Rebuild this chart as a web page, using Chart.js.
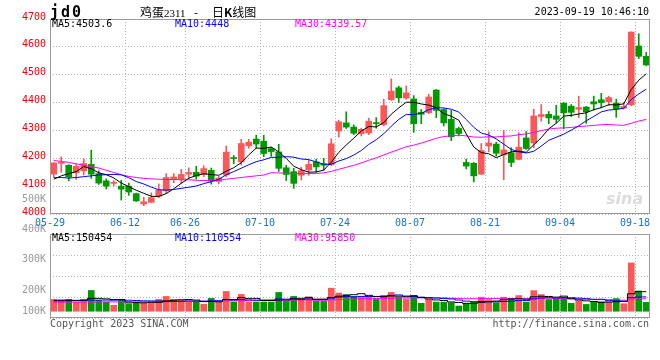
<!DOCTYPE html>
<html>
<head>
<meta charset="utf-8">
<script src="https://cdn.jsdelivr.net/npm/chart.js@4/dist/chart.umd.min.js"></script>
<style>
  body { margin: 0; background: #fff; }
  #wrap { position: relative; width: 660px; height: 360px; overflow: hidden; background: #fff;
          font-family: "DejaVu Sans Mono", monospace; font-size: 10px; }
  #wrap canvas { position: absolute; left: 0; }
  .t { position: absolute; line-height: 12px; white-space: pre; }
  .cn { font: 12px 'Noto Sans CJK SC'; line-height: 16px; top: 4px; }
</style>
</head>
<body>
<div id="wrap">
  <canvas id="vol" width="660" height="136" style="top:190px"></canvas>
  <canvas id="main" width="660" height="232" style="top:0"></canvas>

  <div class="t" style="left:50px;top:5px;font:bold 15px 'DejaVu Sans Mono';letter-spacing:2px;line-height:14px">jd0</div>
  <div class="t cn" style="left:140px">鸡蛋<span style="font:11px 'Liberation Serif'">2311</span></div>
  <div class="t cn" style="left:194px">-</div>
  <div class="t cn" style="left:212px">日<b>K</b>线图</div>
  <div class="t" style="right:11px;top:6px">2023-09-19 10:46:10</div>

  <div class="t" id="ma5" style="left:52px;top:18px;color:#000"></div>
  <div class="t" id="ma10" style="left:175px;top:18px;color:#0000ff"></div>
  <div class="t" id="ma30" style="left:295px;top:18px;color:#ff00ff"></div>

  <div class="t" id="vma5" style="left:52px;top:232px;color:#000"></div>
  <div class="t" id="vma10" style="left:175px;top:232px;color:#0000ff"></div>
  <div class="t" id="vma30" style="left:295px;top:232px;color:#ff00ff"></div>

  <div class="t" style="left:606px;top:189px;font:italic bold 16px 'DejaVu Sans';color:#dcdcdc">sina</div>

  <div class="t" style="left:50px;top:318px;color:#555">Copyright 2023 SINA.COM</div>
  <div class="t" style="right:11px;top:318px;color:#555">http://finance.sina.com.cn</div>
</div>

<script>
// 交易日
const dates = [
  '05-29','05-30','05-31','06-01','06-02','06-05','06-06','06-07','06-08','06-09',
  '06-12','06-13','06-14','06-15','06-16','06-19','06-20','06-21','06-26','06-27',
  '06-28','06-29','06-30','07-03','07-04','07-05','07-06','07-07','07-10','07-11',
  '07-12','07-13','07-14','07-17','07-18','07-19','07-20','07-21','07-24','07-25',
  '07-26','07-27','07-28','07-31','08-01','08-02','08-03','08-04','08-07','08-08',
  '08-09','08-10','08-11','08-14','08-15','08-16','08-17','08-18','08-21','08-22',
  '08-23','08-24','08-25','08-28','08-29','08-30','08-31','09-01','09-04','09-05',
  '09-06','09-07','09-08','09-11','09-12','09-13','09-14','09-15','09-18','09-19'
];
const dateTicks = ['05-29','06-12','06-26','07-10','07-24','08-07','08-21','09-04','09-18'];

const opens = [
  4143,4182,4175,4148,4155,4178,4145,4119,4110,4100,
  4100,4073,4036,4042,4064,4083,4123,4125,4143,4150,
  4142,4157,4117,4140,4201,4187,4245,4269,4261,4235,
  4223,4166,4152,4139,4158,4187,4180,4177,4298,4327,
  4312,4288,4291,4328,4321,4410,4453,4416,4413,4365,
  4364,4445,4375,4340,4307,4185,4182,4143,4244,4251,
  4212,4220,4196,4273,4255,4350,4358,4352,4398,4387,
  4376,4384,4403,4410,4403,4398,4380,4392,4603,4566
];
const highs = [
  4185,4205,4177,4180,4198,4229,4155,4126,4120,4121,
  4111,4075,4060,4076,4108,4145,4145,4160,4166,4171,
  4173,4165,4135,4244,4210,4268,4268,4283,4283,4239,
  4250,4175,4164,4168,4193,4197,4200,4270,4337,4367,
  4320,4308,4344,4346,4412,4485,4459,4460,4425,4375,
  4430,4447,4378,4372,4312,4197,4185,4253,4295,4258,
  4300,4238,4292,4296,4376,4393,4368,4390,4400,4393,
  4423,4386,4423,4433,4423,4412,4400,4654,4647,4580
];
const lows = [
  4131,4150,4119,4124,4140,4128,4106,4090,4101,4050,
  4067,4045,4030,4041,4058,4074,4112,4110,4128,4125,
  4134,4107,4108,4134,4180,4176,4236,4236,4206,4207,
  4153,4120,4092,4122,4139,4150,4157,4173,4276,4307,
  4285,4280,4285,4308,4316,4408,4400,4412,4293,4324,
  4360,4346,4316,4263,4280,4162,4115,4142,4223,4208,
  4123,4170,4194,4232,4238,4333,4324,4327,4306,4350,
  4346,4325,4373,4381,4390,4347,4377,4388,4558,4532
];
const closes = [
  4183,4184,4133,4171,4181,4143,4111,4100,4112,4089,
  4079,4047,4044,4059,4086,4131,4133,4142,4149,4136,
  4163,4118,4129,4222,4199,4253,4258,4251,4217,4224,
  4164,4142,4110,4156,4178,4169,4175,4252,4331,4312,
  4290,4304,4333,4324,4389,4441,4417,4435,4324,4358,
  4420,4372,4327,4277,4289,4172,4137,4228,4255,4218,
  4230,4185,4240,4235,4352,4357,4345,4340,4363,4365,
  4382,4367,4395,4400,4418,4378,4386,4653,4566,4535
];
const volumes = [
  91200,83500,91200,71000,91200,160300,83500,71000,46100,91200,
  58600,66200,63400,63400,91200,114200,91200,83500,71000,71000,
  53800,98900,71000,152600,71000,129600,71000,71000,71000,71000,
  145000,75800,114200,91200,109400,75800,75800,177600,140200,129600,
  114200,114200,114200,91200,121900,145000,109400,91200,121900,61400,
  90300,70400,70400,65600,40000,58000,70400,108400,90300,65600,
  108400,98000,120800,70400,158800,128400,90300,96000,108400,61060,
  82000,52500,74000,72500,72270,97500,57800,372400,156200,68370
];

// 均线起始段（图中读取，之前的历史数据不在图内）
const ma5Head  = [4125,4137,4145,4152];
const ma10Head = [4130,4131,4129,4131,4134,4137,4140,4141,4142];
const ma30Head = [4192,4189,4185,4180,4175,4170,4165,4157,4149,4141,
                  4135,4131,4128,4126,4125,4124,4124,4123,4123,4121,
                  4120,4120,4121,4125,4128,4131,4134,4137,4140];
const volMa5Head  = [84000,86000,85000,84000];
const volMa10Head = [80000,80000,81000,82000,83000,86000,86000,86000,85000];
const volMa30Head = [70000,70000,70500,70500,71000,71000,71500,71500,72000,72000,
                     72500,72500,73000,73500,74000,74500,75000,76000,77000,77500,
                     78000,78500,79000,80000,80500,81000,82000,82500,83000];

const volTickVals   = [100000,200000,300000,400000,500000];
const volTickLabels = ['100K','200K','300K','400K','500K'];

const UP = '#fa5858', DOWN = '#009900';
const GRID = '#b4b4b4';
const FONT = '"DejaVu Sans Mono", monospace';

function movingAvg(vals, n, head) {
  return vals.map((v, i) => {
    if (i < n - 1) return head[i];
    let s = 0;
    for (let k = i - n + 1; k <= i; k++) s += vals[k];
    return s / n;
  });
}
const fmt = v => String(+v.toFixed(2));

const ma5 = movingAvg(closes, 5, ma5Head);
const ma10 = movingAvg(closes, 10, ma10Head);
const ma30 = movingAvg(closes, 30, ma30Head);
const vma5 = movingAvg(volumes, 5, volMa5Head);
const vma10 = movingAvg(volumes, 10, volMa10Head);
const vma30 = movingAvg(volumes, 30, volMa30Head);

const last = dates.length - 1;
document.getElementById('ma5').textContent = 'MA5:' + fmt(ma5[last]);
document.getElementById('ma10').textContent = 'MA10:' + fmt(ma10[last]);
document.getElementById('ma30').textContent = 'MA30:' + fmt(ma30[last]);
document.getElementById('vma5').textContent = 'MA5:' + Math.round(vma5[last]);
document.getElementById('vma10').textContent = 'MA10:' + Math.round(vma10[last]);
document.getElementById('vma30').textContent = 'MA30:' + Math.round(vma30[last]);

const candleColors = closes.map((c, i) => c >= opens[i] ? UP : DOWN);
const pts = arr => arr.map((v, i) => ({ x: i, y: v }));

// 外框
const frame = {
  id: 'frame',
  afterDraw(chart) {
    const a = chart.chartArea, ctx = chart.ctx;
    ctx.save();
    ctx.strokeStyle = '#9a9a9a';
    ctx.lineWidth = 1;
    ctx.strokeRect(a.left + 0.5, a.top + 0.5, a.right - a.left - 1, a.bottom - a.top - 1);
    ctx.restore();
  }
};

function xAxis(showLabels, height) {
  return {
    type: 'linear',
    offset: false,
    min: -0.5,
    max: dates.length - 0.5,
    afterBuildTicks: s => { s.ticks = dateTicks.map(d => ({ value: dates.indexOf(d) - 0.5 })); },
    afterFit: s => { s.height = height; },
    grid: { color: GRID, drawTicks: false, offset: false },
    border: { display: false, dash: [1, 2] },
    ticks: {
      display: showLabels,
      padding: 3,
      color: '#1a73c8',
      font: { family: FONT, size: 10 },
      maxRotation: 0,
      autoSkip: false,
      callback: v => dates[Math.round(v + 0.5)]
    }
  };
}

new Chart(document.getElementById('main'), {
  type: 'bar',
  data: {
    datasets: [
      { type: 'line', data: pts(ma5), borderColor: '#000', borderWidth: 1, pointRadius: 0, order: 0 },
      { type: 'line', data: pts(ma10), borderColor: '#0000ff', borderWidth: 1, pointRadius: 0, order: 0 },
      { type: 'line', data: pts(ma30), borderColor: '#ff00ff', borderWidth: 1, pointRadius: 0, order: 0 },
      { data: opens.map((o, i) => ({ x: i, y: [o, closes[i]] })), backgroundColor: candleColors,
        barThickness: 6, grouped: false, minBarLength: 1, order: 1 },
      { data: lows.map((l, i) => ({ x: i, y: [l, highs[i]] })), backgroundColor: candleColors,
        barThickness: 1, grouped: false, order: 2 }
    ]
  },
  options: {
    responsive: false,
    animation: false,
    events: [],
    layout: { padding: { top: 19, right: 10, bottom: 0, left: 0 } },
    plugins: { legend: { display: false }, tooltip: { enabled: false } },
    scales: {
      x: xAxis(true, 18),
      y: {
        min: 4000,
        max: 4700,
        afterFit: s => { s.width = 50; },
        grid: { color: GRID, drawTicks: false },
        border: { display: false, dash: [1, 2] },
        ticks: {
          stepSize: 100,
          padding: 4,
          labelOffset: -2,
          color: '#ee0000',
          font: { family: FONT, size: 10 },
          callback: v => String(v)
        }
      }
    }
  },
  plugins: [frame]
});

// 成交量坐标文字（超出面板底部时贴底显示）
const volLabels = {
  id: 'volLabels',
  afterDraw(chart) {
    const s = chart.scales.yl, a = chart.chartArea, ctx = chart.ctx;
    ctx.save();
    ctx.font = '10px ' + FONT;
    ctx.fillStyle = '#999';
    ctx.textAlign = 'right';
    ctx.textBaseline = 'middle';
    volTickVals.forEach((v, k) => {
      const y = Math.min(s.getPixelForValue(v), a.bottom - 7);
      ctx.fillText(volTickLabels[k], a.left - 4, y);
    });
    ctx.restore();
  }
};

new Chart(document.getElementById('vol'), {
  type: 'bar',
  data: {
    datasets: [
      { type: 'line', data: pts(vma5), borderColor: '#000', borderWidth: 1, pointRadius: 0, stepped: 'middle', order: 0 },
      { type: 'line', data: pts(vma10), borderColor: '#0000ff', borderWidth: 1, pointRadius: 0, stepped: 'middle', order: 0 },
      { type: 'line', data: pts(vma30), borderColor: '#ff00ff', borderWidth: 1, pointRadius: 0, stepped: 'middle', order: 0 },
      { data: pts(volumes), backgroundColor: candleColors, barThickness: 6, order: 1 }
    ]
  },
  options: {
    responsive: false,
    animation: false,
    events: [],
    layout: { padding: { top: 44, right: 10, bottom: 0, left: 0 } },
    plugins: { legend: { display: false }, tooltip: { enabled: false } },
    scales: {
      x: xAxis(false, 8),
      y: {
        min: -52000,
        max: 595000,
        afterFit: s => { s.width = 50; },
        afterBuildTicks: s => {
          const step = (s.max - s.min) / 4;
          s.ticks = [0, 1, 2, 3, 4].map(k => ({ value: s.min + step * k }));
        },
        grid: { color: GRID, drawTicks: false },
        border: { display: false, dash: [1, 2] },
        ticks: { display: false }
      },
      yl: { type: 'linear', display: false, min: 107700, max: 384600 }
    }
  },
  plugins: [frame, volLabels]
});
</script>
</body>
</html>
